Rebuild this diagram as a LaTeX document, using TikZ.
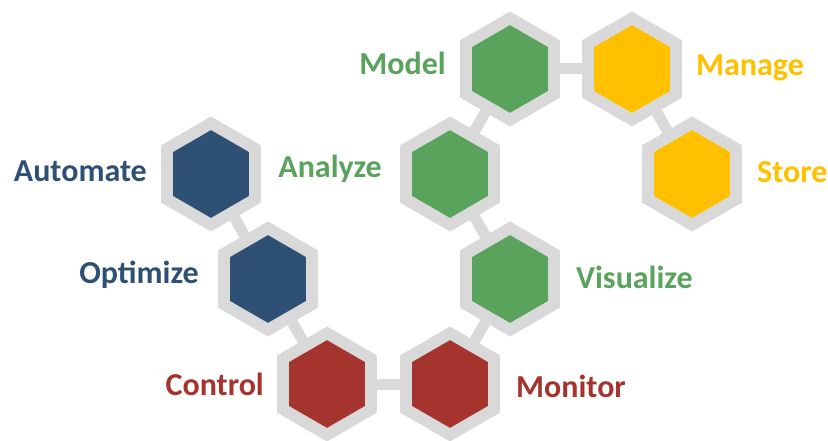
\documentclass[tikz,border=0pt]{standalone}
\usepackage{fontspec}
\setmainfont{Carlito}
\usetikzlibrary{shapes.geometric,backgrounds}
\definecolor{hexgray}{HTML}{D9D9D9}
\definecolor{cblue}{HTML}{2F5075}
\definecolor{cgreen}{HTML}{5AA35C}
\definecolor{cgold}{HTML}{FFC000}
\definecolor{cred}{HTML}{A5342F}
\tikzset{
  hexa/.style={regular polygon, regular polygon sides=6, shape border rotate=30,
    minimum size=101.5pt, inner sep=0pt, outer sep=0pt, draw=hexgray,
    line width=11.7pt, miter limit=10, fill=#1},
  conn/.style={draw=hexgray, line width=11pt},
  lbl/.style={font=\bfseries\fontsize{32}{38}\selectfont, text=#1, inner sep=0pt}
}
\begin{document}
\begin{tikzpicture}[x=1pt,y=-1pt]
\useasboundingbox (0,0) rectangle (828,441);
\node[hexa=cgreen] (model) at (510,69) {};
\node[hexa=cgold] (manage) at (632,69) {};
\node[hexa=cgreen] (analyze) at (450,174) {};
\node[hexa=cgold] (store) at (692,174) {};
\node[hexa=cblue] (automate) at (211,174) {};
\node[hexa=cblue] (optimize) at (268,279) {};
\node[hexa=cgreen] (visualize) at (510,279) {};
\node[hexa=cred] (control) at (327,384) {};
\node[hexa=cred] (monitor) at (450,384) {};
\begin{scope}[on background layer]
\draw[conn] (model.center) -- (manage.center);
\draw[conn] (model.center) -- (analyze.center);
\draw[conn] (manage.center) -- (store.center);
\draw[conn] (analyze.center) -- (visualize.center);
\draw[conn] (visualize.center) -- (monitor.center);
\draw[conn] (monitor.center) -- (control.center);
\draw[conn] (control.center) -- (optimize.center);
\draw[conn] (optimize.center) -- (automate.center);
\end{scope}
\node[lbl=cgreen, anchor=base east] (tmodel) at (446,75) {Model};
\node[lbl=cgold, anchor=base west] (tmanage) at (696,76) {Manage};
\node[lbl=cgreen, anchor=base east] (tanalyze) at (382,178) {Analyze};
\node[lbl=cgold, anchor=base west] (tstore) at (757,183) {Store};
\node[lbl=cblue, anchor=base east] (tautomate) at (147,182) {Automate};
\node[lbl=cblue, anchor=base east] (toptimize) at (199,283) {Optimize};
\node[lbl=cgreen, anchor=base west] (tvisualize) at (576,288) {Visualize};
\node[lbl=cred, anchor=base east] (tcontrol) at (264,395) {Control};
\node[lbl=cred, anchor=base west] (tmonitor) at (516,397) {Monitor};
\end{tikzpicture}
\end{document}
